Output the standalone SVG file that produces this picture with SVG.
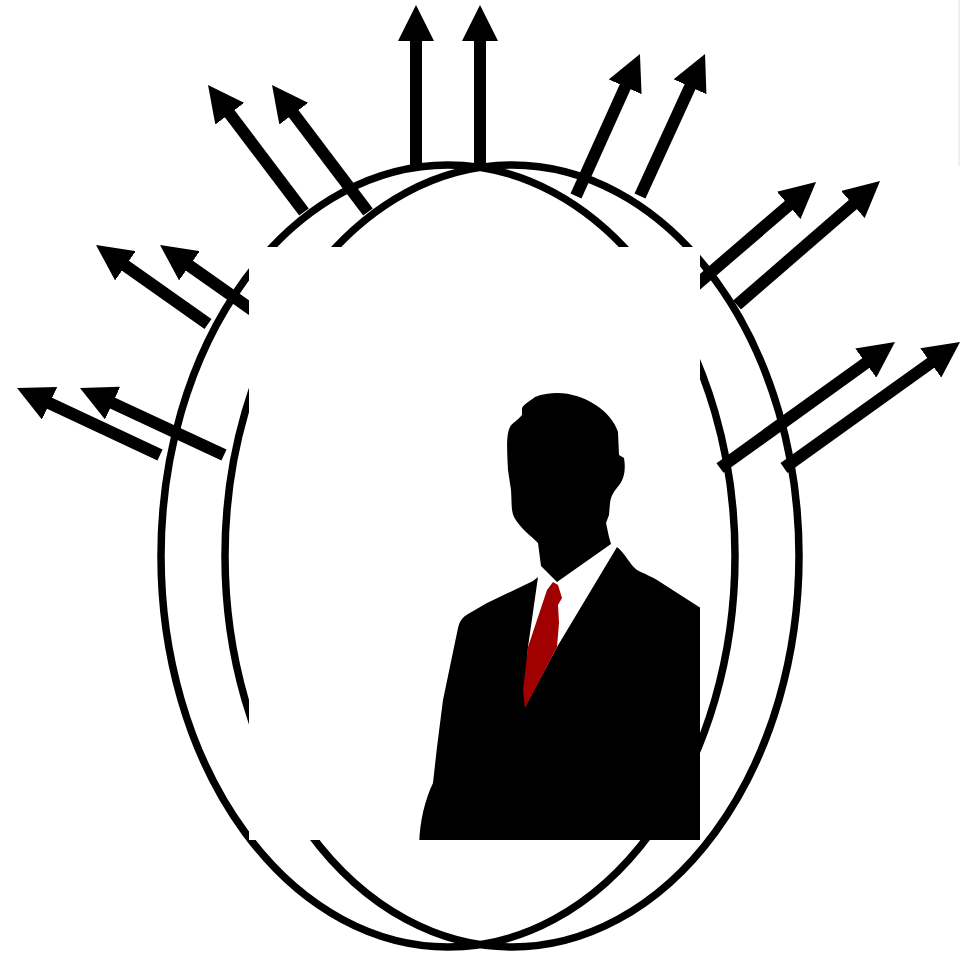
<svg xmlns="http://www.w3.org/2000/svg" width="960" height="955" viewBox="0 0 960 955">
<style>
.ring{fill:none;stroke:#000;stroke-width:7.5}
.arrow{fill:none;stroke:#000;stroke-width:12;marker-end:url(#head)}
</style>
<defs>
<marker id="head" markerUnits="userSpaceOnUse" markerWidth="36" markerHeight="36" viewBox="0 0 36 36" refX="3" refY="18" orient="auto"><path d="M0 0L36 18L0 36Z" fill="#000"/></marker>
<clipPath id="frame"><rect x="249" y="247" width="451" height="593"/></clipPath>
<filter id="soft" x="-5%" y="-5%" width="110%" height="110%"><feGaussianBlur stdDeviation="0.7"/></filter>
</defs>
<rect width="960" height="955" fill="#fff"/>
<rect id="edge" x="958.4" y="0" width="1.6" height="166" fill="#eeeee6"/>
<g id="ring-left"><ellipse class="ring" cx="448" cy="556" rx="287" ry="391"/></g>
<g id="ring-right"><ellipse class="ring" cx="512" cy="556" rx="287" ry="391"/></g>
<g id="connectors">
<path class="arrow" d="M416 165L416 38"/>
<path class="arrow" d="M480 165L480 38"/>
<path class="arrow" d="M576 196L626.4 84.1"/>
<path class="arrow" d="M640 196L691.3 84"/>
<path class="arrow" d="M673 305L791 203.5"/>
<path class="arrow" d="M737 305L855.1 202.6"/>
<path class="arrow" d="M720 468L868.2 361.3"/>
<path class="arrow" d="M784 468L933.2 361.2"/>
<path class="arrow" d="M304 212L227.9 111.3"/>
<path class="arrow" d="M368 212L291.9 111.3"/>
<path class="arrow" d="M208 324L123 264"/>
<path class="arrow" d="M272 324L187 264"/>
<path class="arrow" d="M160 455L46.9 402"/>
<path class="arrow" d="M224 455L109.9 401.9"/>
</g>
<g id="person">
<rect x="249" y="247" width="451" height="593" fill="#fff"/>
<g clip-path="url(#frame)"><g filter="url(#soft)">
<path d="M419 850C419 825 424 802 433 783L437 747L443 700L458 628C460 620 463 617 468 614L487 603L533 581L538 577L528 647L525 707L557 647L617 547C625 553 630 565 637 570C645 574 650 576 657 580L710 614L710 850Z" fill="#000"/>
<path d="M557 393C585 393 612 412 618 432L619 455L624 458C626 470 624 478 620 484C615 490 611 495 610 503L609 515L606 523L609 537L611 544L557 582L541 566L538 543C530 535 520 528 514 517C511 510 512 505 511 490L508 470C507 450 506 435 510 427C512 423 518 420 522 415L522 408C525 403 530 401 535 397C542 394 550 393 557 393Z" fill="#000"/>
<path d="M553 582L558 585L562 598L558 605L559 623L557 647L525 708L523 690L528 647L547 590Z" fill="#a00000"/>
</g></g>
</g>
</svg>
